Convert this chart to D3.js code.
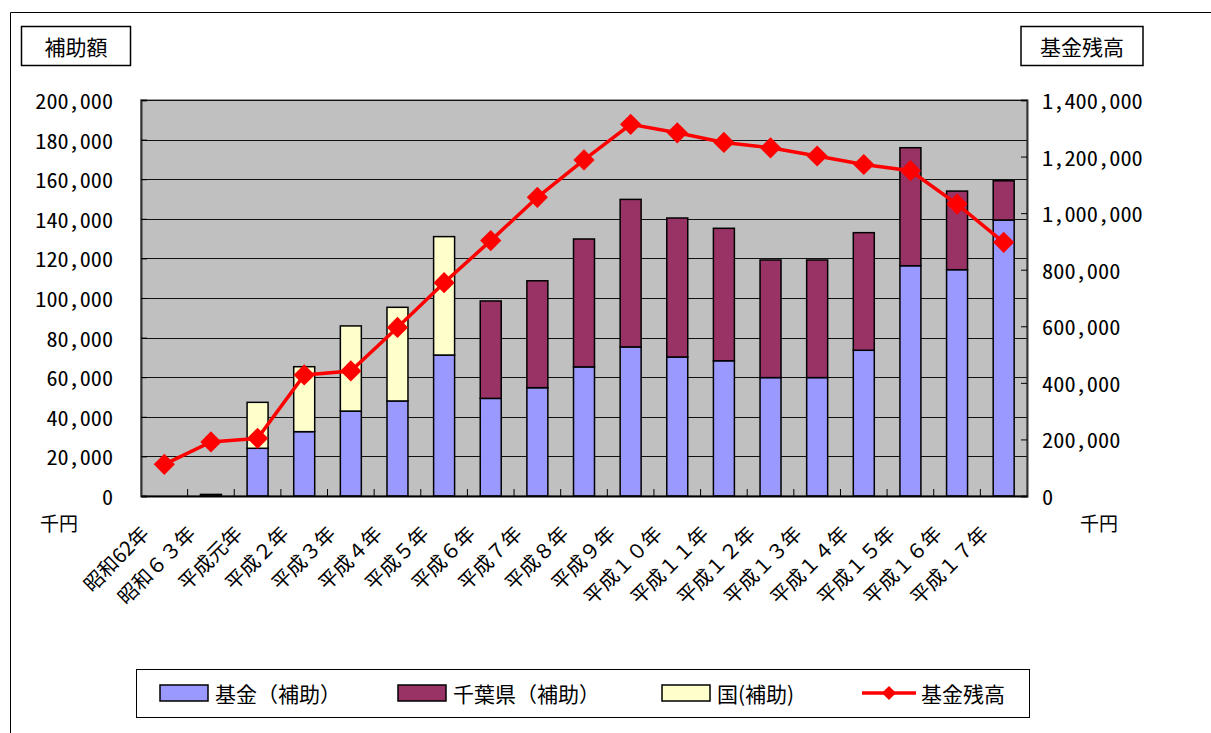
<!DOCTYPE html>
<html>
<head>
<meta charset="utf-8">
<script src="https://cdn.jsdelivr.net/npm/d3@7"></script>
<style>
  body { margin: 0; background: #fff; }
  svg { display: block; font-family: "Noto Sans CJK JP", sans-serif; }
  .num { font-family: "Noto Sans Mono CJK JP", "Liberation Mono", monospace; }
</style>
</head>
<body>
<svg id="chart"></svg>
<script>
// Fiscal years on the x axis
const years = ["昭和62年", "昭和６３年", "平成元年", "平成２年", "平成３年", "平成４年",
  "平成５年", "平成６年", "平成７年", "平成８年", "平成９年", "平成１０年", "平成１１年",
  "平成１２年", "平成１３年", "平成１４年", "平成１５年", "平成１６年", "平成１７年"];

// Subsidies (thousand yen), stacked bars
const fundAid = [0, 800, 24100, 32500, 42900, 48000, 71200, 49300, 54700, 65200, 75300,
  70200, 68300, 59800, 59800, 73600, 116300, 114300, 139400];
const chibaAid = [0, 0, 0, 0, 0, 0, 0, 49200, 54000, 64600, 74500,
  70200, 66900, 59400, 59400, 59400, 59600, 39700, 19800];
const stateAid = [0, 0, 23200, 32800, 43000, 47300, 59800, 0, 0, 0, 0,
  0, 0, 0, 0, 0, 0, 0, 0];

// Fund balance (thousand yen), line on right axis
const balance = [112000, 191000, 204000, 428000, 442000, 596000, 754000, 903000, 1056000,
  1188000, 1314000, 1284000, 1250000, 1231000, 1202000, 1172000, 1150000, 1032000, 897000];

const leftTicks = d3.range(0, 200001, 20000);
const rightTicks = d3.range(0, 1400001, 200000);

const seriesNames = ["基金（補助）", "千葉県（補助）", "国(補助)", "基金残高"];
const colors = ["#9999FF", "#993366", "#FFFFCC", "#FF0000"];

const W = 1211, H = 733;
const svg = d3.select("#chart").attr("width", W).attr("height", H);

const plot = { left: 141, right: 1027, top: 100, bottom: 496 };

const x = d3.scaleBand().domain(years).range([plot.left, plot.right])
  .paddingInner(0.55).paddingOuter(0.275);
const yL = d3.scaleLinear().domain([0, 200000]).range([plot.bottom, plot.top]);
const yR = d3.scaleLinear().domain([0, 1400000]).range([plot.bottom, plot.top]);

// outer frame
svg.append("path").attr("d", `M10.5,${H} V12.5 H${W}`)
  .attr("fill", "none").attr("stroke", "#000").attr("stroke-width", 1);

// axis title boxes
function titleBox(bx, bw, label) {
  svg.append("rect").attr("x", bx).attr("y", 26.5).attr("width", bw).attr("height", 39)
    .attr("fill", "#fff").attr("stroke", "#000").attr("stroke-width", 1.5);
  svg.append("text").attr("x", bx + bw / 2).attr("y", 46).attr("text-anchor", "middle")
    .attr("dominant-baseline", "central").attr("font-size", 21).text(label);
}
titleBox(21.5, 109, "補助額");
titleBox(1021, 122, "基金残高");

// plot background
svg.append("rect").attr("x", plot.left).attr("y", plot.top)
  .attr("width", plot.right - plot.left).attr("height", plot.bottom - plot.top)
  .attr("fill", "#C0C0C0").attr("stroke", "#808080").attr("stroke-width", 1.5);

// gridlines
svg.append("g").selectAll("line").data(leftTicks.slice(1)).join("line")
  .attr("x1", plot.left).attr("x2", plot.right)
  .attr("y1", d => Math.round(yL(d)) + 0.5).attr("y2", d => Math.round(yL(d)) + 0.5)
  .attr("stroke", "#111").attr("stroke-width", 1);

// stacked bars
const stackData = years.map((y, i) => ({ year: y, fund: fundAid[i], chiba: chibaAid[i], state: stateAid[i] }));
const stack = d3.stack().keys(["fund", "chiba", "state"])(stackData);
svg.append("g").selectAll("g").data(stack).join("g")
  .attr("fill", (d, i) => colors[i])
  .selectAll("rect").data(d => d.filter(p => p[1] > p[0])).join("rect")
  .attr("x", d => x(d.data.year)).attr("width", x.bandwidth())
  .attr("y", d => yL(d[1])).attr("height", d => yL(d[0]) - yL(d[1]))
  .attr("stroke", "#000").attr("stroke-width", 1.5);

// axes
const axL = svg.append("g").attr("transform", `translate(${plot.left},0)`)
  .call(d3.axisRight(yL).tickValues(leftTicks).tickSize(6).tickFormat(""));
axL.select(".domain").attr("stroke", "#333").attr("stroke-width", 2);
const axR = svg.append("g").attr("transform", `translate(${plot.right},0)`)
  .call(d3.axisLeft(yR).tickValues(rightTicks).tickSize(6).tickFormat(""));
axR.select(".domain").attr("stroke", "#333").attr("stroke-width", 2);
svg.append("g").attr("transform", `translate(0,${plot.bottom})`)
  .call(d3.axisTop(x).tickSize(0).tickFormat(""))
  .call(g => g.select(".domain").attr("stroke", "#000").attr("stroke-width", 2));
// category separators on bottom axis
svg.append("g").selectAll("line").data(years.slice(1)).join("line")
  .attr("x1", d => x(d) - x.step() * x.paddingInner() / 2)
  .attr("x2", d => x(d) - x.step() * x.paddingInner() / 2)
  .attr("y1", plot.bottom).attr("y2", plot.bottom - 7)
  .attr("stroke", "#000").attr("stroke-width", 1);

// tick labels
const fmt = d3.format(",");
svg.append("g").selectAll("text").data(leftTicks).join("text")
  .attr("class", "num").attr("x", 113).attr("y", d => yL(d))
  .attr("text-anchor", "end").attr("dominant-baseline", "central")
  .attr("font-size", 21)
  .attr("textLength", d => fmt(d).length * 11.1).attr("lengthAdjust", "spacingAndGlyphs")
  .text(d => fmt(d));
svg.append("g").selectAll("text").data(rightTicks).join("text")
  .attr("class", "num").attr("x", 1042).attr("y", d => yR(d))
  .attr("text-anchor", "start").attr("dominant-baseline", "central")
  .attr("font-size", 21)
  .attr("textLength", d => fmt(d).length * 11.2).attr("lengthAdjust", "spacingAndGlyphs")
  .text(d => fmt(d));

svg.append("text").attr("x", 40).attr("y", 522).attr("dominant-baseline", "central")
  .attr("font-size", 19).text("千円");
svg.append("text").attr("x", 1080).attr("y", 522).attr("dominant-baseline", "central")
  .attr("font-size", 19).text("千円");

// x labels
svg.append("g").selectAll("text").data(years).join("text")
  .attr("transform", d => `translate(${x(d) + x.bandwidth() / 2 - 20},529) rotate(-45)`)
  .attr("text-anchor", "end").attr("dominant-baseline", "central")
  .attr("font-size", 20).text(d => d);

// balance line
const cx = (d, i) => x(years[i]) + x.bandwidth() / 2;
svg.append("path").datum(balance)
  .attr("d", d3.line().x(cx).y(d => yR(d)))
  .attr("fill", "none").attr("stroke", colors[3]).attr("stroke-width", 3.5);
const diamond = d3.symbol(d3.symbolSquare, 225);
svg.append("g").selectAll("path").data(balance).join("path")
  .attr("transform", (d, i) => `translate(${cx(d, i)},${yR(d)}) rotate(45)`)
  .attr("d", diamond).attr("fill", colors[3]);

// legend
svg.append("rect").attr("x", 136.5).attr("y", 669.5).attr("width", 893).attr("height", 48)
  .attr("fill", "#fff").attr("stroke", "#000").attr("stroke-width", 1);
const legendX = [160, 398, 662, 862];
const lg = svg.append("g").selectAll("g").data(seriesNames).join("g")
  .attr("transform", (d, i) => `translate(${legendX[i]},693)`);
lg.filter((d, i) => i < 3).append("rect")
  .attr("x", 0).attr("y", -8).attr("width", 48).attr("height", 16)
  .attr("fill", (d, i) => colors[i]).attr("stroke", "#000").attr("stroke-width", 1.5);
const lineItem = lg.filter((d, i) => i === 3);
lineItem.append("line").attr("x1", 0).attr("x2", 54).attr("y1", 0).attr("y2", 0)
  .attr("stroke", colors[3]).attr("stroke-width", 3.5);
lineItem.append("path").attr("transform", "translate(27,0) rotate(45)")
  .attr("d", d3.symbol(d3.symbolSquare, 100)).attr("fill", colors[3]);
lg.append("text").attr("x", (d, i) => i === 3 ? 59 : 55).attr("y", 0)
  .attr("dominant-baseline", "central").attr("font-size", 21).text(d => d);
</script>
</body>
</html>
